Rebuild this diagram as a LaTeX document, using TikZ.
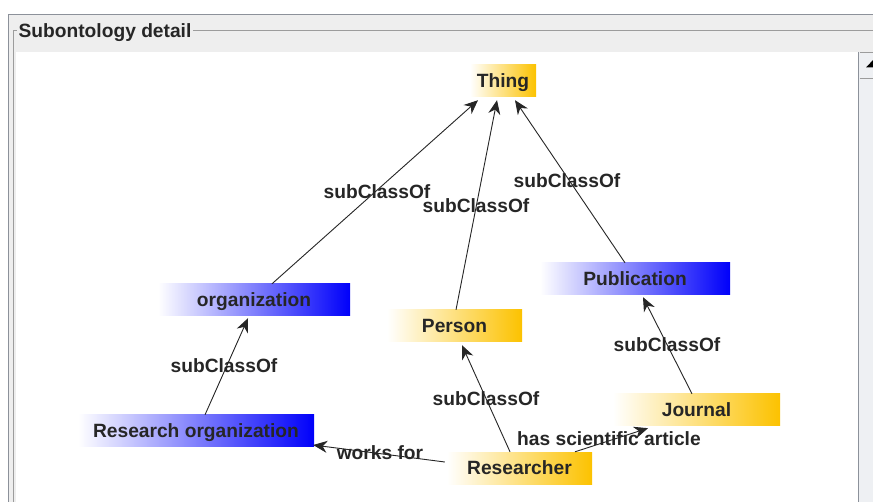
\documentclass[tikz,border=0pt]{standalone}
\usepackage{fontspec}
\setmainfont{Liberation Sans}
\usetikzlibrary{arrows.meta}

\definecolor{ink}{HTML}{262626}
\definecolor{goldc}{RGB}{252,194,0}
\definecolor{bluec}{RGB}{0,0,250}
\definecolor{panel}{HTML}{EEEEEE}
\definecolor{framec}{HTML}{8C919A}
\definecolor{titledc}{HTML}{9C9C9C}
\definecolor{trackc}{HTML}{EEF0F3}

\tikzset{
  txt/.style={font=\bfseries\fontsize{19.2}{21}\selectfont, text=ink,
              inner sep=0pt, text height=14pt, text depth=0pt},
  cls/.style={txt, minimum height=32pt, shading=axis, left color=white},
  goldbox/.style={cls, right color=goldc},
  bluebox/.style={cls, right color=bluec},
  link/.style={draw=ink, line width=0.9pt,
               -{Stealth[length=14pt,width=12pt,inset=4.5pt]}},
}

\begin{document}
\begin{tikzpicture}[x=1pt,y=-1pt]
  % canvas and window frame
  \useasboundingbox (0,0) rectangle (873,502);
  \fill[white] (0,0) rectangle (873,502);
  \fill[panel] (9,14) rectangle (873,502);
  \fill[white] (16,52) rectangle (858,502);
  \draw[framec, line width=1.5pt] (8.5,502) -- (8.5,14.5) -- (873,14.5);
  \draw[titledc, line width=1pt] (13,502) -- (13,31) -- (873,31);
  \node[txt, fill=panel, inner xsep=2pt] (title) at (105,31) {Subontology detail};

  % scrollbar
  \fill[trackc] (859,52) rectangle (873,502);
  \draw[framec, line width=1.5pt] (858.7,52) -- (858.7,502);
  \draw[titledc, line width=0.8pt] (859.5,52.5) -- (873,52.5);
  \draw[titledc, line width=0.8pt] (859.5,78) -- (873,78);
  \begin{scope}
    \clip (859,52) rectangle (873,78);
    \fill[black] (866,67.5) -- (874,59) -- (882,67.5) -- cycle;
  \end{scope}

  % classes
  \node[goldbox, minimum width=66pt]  (thing)      at (503,81)    {Thing};
  \node[bluebox, minimum width=192pt] (org)        at (254,300)   {organization};
  \node[bluebox, minimum width=190pt] (pub)        at (635,279)   {Publication};
  \node[goldbox, minimum width=135pt] (person)     at (454.5,326) {Person};
  \node[bluebox, minimum width=236pt] (resorg)     at (196,431)   {Research organization};
  \node[goldbox, minimum width=167pt] (journal)    at (696.5,410) {Journal};
  \node[goldbox, minimum width=145pt] (researcher) at (519.5,468) {Researcher};

  % relations
  \draw[link] ([xshift=18pt]org.north)          -- ([xshift=-25pt,yshift=-3pt]thing.south);
  \draw[link] ([xshift=1.5pt]person.north)      -- ([xshift=-6pt,yshift=-3pt]thing.south);
  \draw[link] ([xshift=-10pt]pub.north)         -- ([xshift=12pt,yshift=-3pt]thing.south);
  \draw[link] ([xshift=9pt]resorg.north)        -- ([xshift=-6pt,yshift=-2pt]org.south);
  \draw[link] ([xshift=-9.5pt]researcher.north) -- ([xshift=7.5pt,yshift=-3pt]person.south);
  \draw[link] ([xshift=-4.5pt]journal.north)    -- ([xshift=8pt,yshift=-2pt]pub.south);
  \draw[link] ([xshift=55.5pt]researcher.north) -- ([xshift=-48.5pt,yshift=-2pt]journal.south);
  \draw[link] ([xshift=-2pt,yshift=6pt]researcher.west) -- ([xshift=-1pt,yshift=-14pt]resorg.east);

  % relation labels
  \node[txt] (l1) at (377,192) {subClassOf};
  \node[txt] (l2) at (476,206) {subClassOf};
  \node[txt] (l3) at (567,181) {subClassOf};
  \node[txt] (l4) at (224,366) {subClassOf};
  \node[txt] (l5) at (667,345) {subClassOf};
  \node[txt] (l6) at (486,399) {subClassOf};
  \node[txt] (l7) at (609,439) {has scientific article};
  \node[txt] (l8) at (380,453) {works for};
\end{tikzpicture}
\end{document}
